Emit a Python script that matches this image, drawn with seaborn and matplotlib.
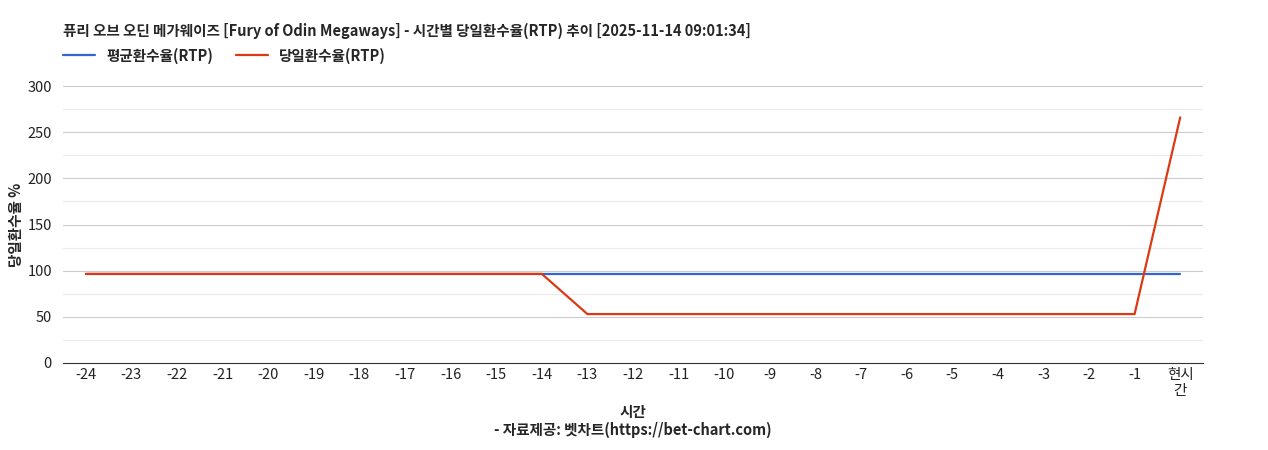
import numpy as np
import pandas as pd
import matplotlib.pyplot as plt
import seaborn as sns

hours = [str(h) for h in range(-24, 0)] + ['현시\n간']
avg_rtp = [96.5] * 25
daily_rtp = [96.5] * 11 + [53.0] * 13 + [266.0]

df = pd.DataFrame({'hour': hours, 'avg': avg_rtp, 'daily': daily_rtp})
df['pos'] = range(len(df))

sns.set_style('white')
plt.rcParams['font.family'] = ['Noto Sans CJK KR', 'DejaVu Sans']

fig = plt.figure(figsize=(12.68, 4.5), dpi=100)
ax = fig.add_axes([63/1268, 1 - 363/450, 1140/1268, 277/450])

for y in np.arange(25, 300, 50):
    ax.axhline(y, color='#ebebeb', lw=0.8, zorder=0)
for y in np.arange(50, 301, 50):
    ax.axhline(y, color='#cccccc', lw=0.8, zorder=0)

sns.lineplot(data=df, x='pos', y='avg', ax=ax, color='#3366cc', lw=1.6, label='평균환수율(RTP)')
sns.lineplot(data=df, x='pos', y='daily', ax=ax, color='#dc3912', lw=1.6, label='당일환수율(RTP)')

ax.set_xlim(-0.5, 24.5)
ax.set_ylim(0, 300)
ax.set_yticks(range(0, 301, 50))
ax.set_xticks(df['pos'])
ax.set_xticklabels(hours)
ax.tick_params(length=0, labelsize=10.5, colors='#222222')
ax.tick_params(axis='y', pad=8)
for s in ['top', 'right', 'left']:
    ax.spines[s].set_visible(False)
ax.spines['bottom'].set_color('#333333')
ax.set_xlabel('시간\n- 자료제공: 벳차트(https://bet-chart.com)', fontsize=10.5, fontweight='bold')
ax.set_ylabel('당일환수율 %', fontsize=10.5, fontweight='bold', labelpad=2)

ax.legend(loc='lower left', bbox_to_anchor=(-0.005, 1.06), ncol=2, frameon=False,
          prop={'weight': 'bold', 'size': 10.5}, handlelength=2.2,
          borderaxespad=0, columnspacing=1.5)
fig.text(63/1268, 1 - 31/450, '퓨리 오브 오딘 메가웨이즈 [Fury of Odin Megaways] - 시간별 당일환수율(RTP) 추이 [2025-11-14 09:01:34]',
         fontsize=10.5, fontweight='bold', va='center')

fig.savefig('out.png', dpi=100)
